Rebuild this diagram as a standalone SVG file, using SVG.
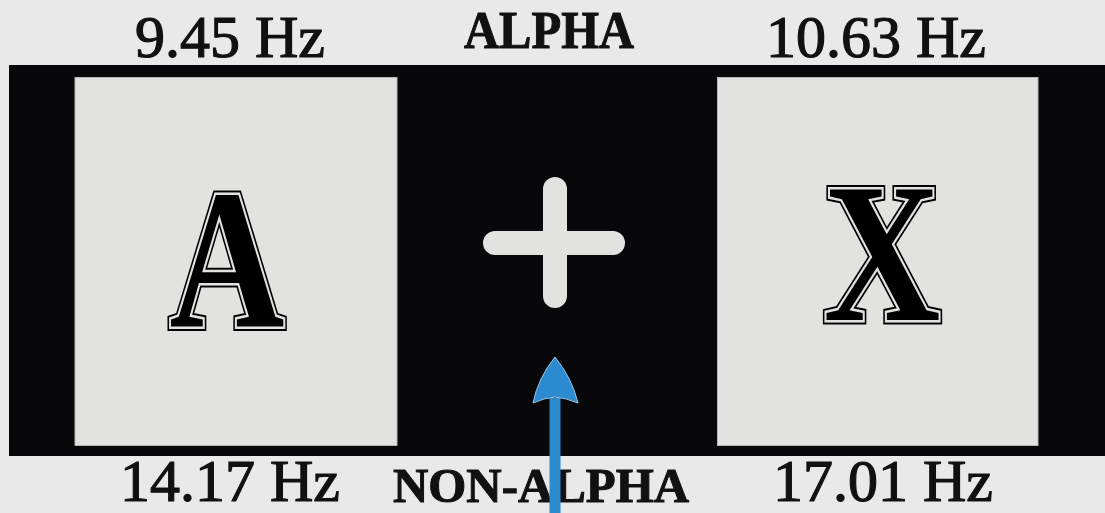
<svg xmlns="http://www.w3.org/2000/svg" width="1105" height="513" viewBox="0 0 1105 513">
<style>
.hz{font-family:"Liberation Serif","Times New Roman",serif;font-size:60px;fill:#111;stroke:#111;stroke-width:1.2;text-anchor:middle}
.cap{font-family:"Liberation Serif","Times New Roman",serif;font-weight:bold;fill:#111;stroke:#111;stroke-width:1;text-anchor:middle}
.big{font-family:"Liberation Serif","Times New Roman",serif;font-weight:bold;font-size:200px;text-anchor:middle}
.o1{fill:#000;stroke:#000;stroke-width:9;stroke-linejoin:miter}
.o2{fill:#e2e2e0;stroke:#e2e2e0;stroke-width:5;stroke-linejoin:miter}
.o3{fill:#000}
.panel{fill:#e2e2e0;stroke:#b8b8b8;stroke-width:1}
</style>
<rect x="0" y="0" width="1105" height="513" fill="#e9e9e9"/>
<rect id="band" x="9" y="65" width="1096" height="391" fill="#08080a"/>

<g id="panel-left">
<rect class="panel" x="75" y="77.5" width="322" height="368"/>
<text class="big o1" x="227" y="327" textLength="115" lengthAdjust="spacingAndGlyphs">A</text>
<text class="big o2" x="227" y="327" textLength="115" lengthAdjust="spacingAndGlyphs">A</text>
<text class="big o3" x="227" y="327" textLength="115" lengthAdjust="spacingAndGlyphs">A</text>
</g>

<g id="panel-right">
<rect class="panel" x="717.5" y="77.5" width="320.5" height="368"/>
<text class="big o1" x="882" y="320" textLength="117" lengthAdjust="spacingAndGlyphs">X</text>
<text class="big o2" x="882" y="320" textLength="117" lengthAdjust="spacingAndGlyphs">X</text>
<text class="big o3" x="882" y="320" textLength="117" lengthAdjust="spacingAndGlyphs">X</text>
</g>

<g id="fixation" stroke="#e2e2e0" stroke-width="24" stroke-linecap="round">
<line x1="495" y1="243" x2="613" y2="243"/>
<line x1="555" y1="189" x2="555" y2="296"/>
</g>

<g id="label-945"><text class="hz" x="230" y="57">9.45 Hz</text></g>
<g id="label-1063"><text class="hz" x="876" y="57">10.63 Hz</text></g>
<g id="label-1417"><text class="hz" x="230" y="501">14.17 Hz</text></g>
<g id="label-1701"><text class="hz" x="883" y="501">17.01 Hz</text></g>
<g id="label-alpha"><text class="cap" x="549" y="48" font-size="52" textLength="170" lengthAdjust="spacingAndGlyphs">ALPHA</text></g>
<g id="label-nonalpha"><text class="cap" x="541" y="502" font-size="48" textLength="296" lengthAdjust="spacingAndGlyphs">NON-ALPHA</text></g>

<g id="connectors">
<line x1="555" y1="513" x2="555" y2="398" stroke="#2b8ad0" stroke-width="11"/>
<path d="M555,357 Q572,378 578,403 Q566,398 555,397 Q544,398 533,403 Q538,378 555,357 Z" fill="#2b8ad0" stroke="#9cc6e6" stroke-width="1"/>
</g>
</svg>
